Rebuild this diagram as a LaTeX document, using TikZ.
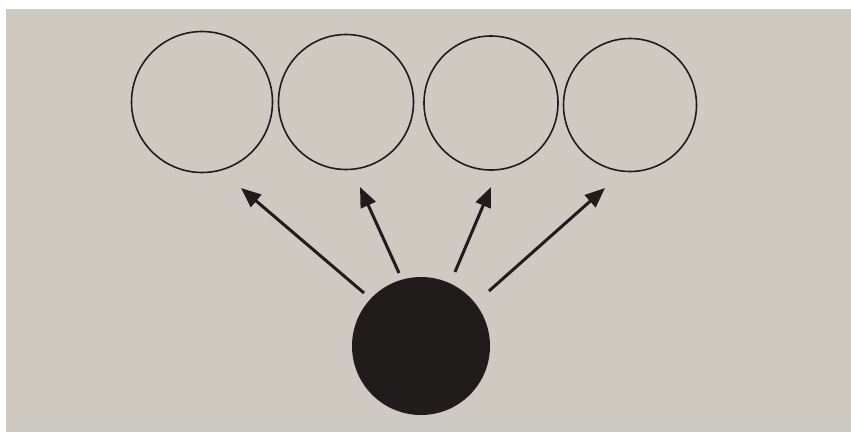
\documentclass[tikz,border=0pt]{standalone}
\usetikzlibrary{arrows.meta}
\definecolor{paper}{RGB}{206,201,193}
\definecolor{ink}{RGB}{32,28,27}
\begin{document}
\begin{tikzpicture}[x=1pt,y=-1pt,
  open/.style={circle,draw=ink,line width=1.6pt,minimum size=#1,inner sep=0pt},
  dot/.style={circle,fill=ink,minimum size=#1,inner sep=0pt},
  arr/.style={draw=ink,line width=3pt,-{Triangle[length=20pt,width=16pt]}}]
\fill[white] (0,0) rectangle (851,432);
\fill[paper] (6,9) rectangle (851,432);
\useasboundingbox (0,0) rectangle (851,432);
\node[open=141pt] (c1) at (202,102) {};
\node[open=135pt] (c2) at (346,102) {};
\node[open=134pt] (c3) at (491,103) {};
\node[open=133pt] (c4) at (630,105) {};
\node[dot=138pt] (b) at (421,346) {};
\coordinate (t1) at (364,293); \coordinate (h1) at (241,188);
\coordinate (t2) at (399,273); \coordinate (h2) at (360,187);
\coordinate (t3) at (455,272); \coordinate (h3) at (491,187);
\coordinate (t4) at (489,291); \coordinate (h4) at (605,188);
\draw[arr] (t1) -- (h1);
\draw[arr] (t2) -- (h2);
\draw[arr] (t3) -- (h3);
\draw[arr] (t4) -- (h4);
\end{tikzpicture}
\end{document}
